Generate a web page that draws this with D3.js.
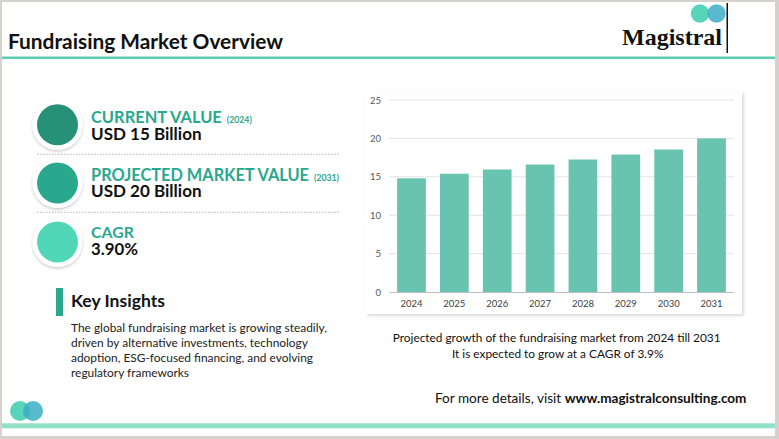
<!DOCTYPE html>
<html><head><meta charset="utf-8">
<script src="https://cdn.jsdelivr.net/npm/d3@7"></script>
<style>html,body{margin:0;padding:0;background:#fff;}svg{display:block;}</style>
</head><body>
<script>
const years = ["2024","2025","2026","2027","2028","2029","2030","2031"];
const values = [14.8, 15.4, 15.95, 16.6, 17.25, 17.9, 18.55, 20.0];
const yTicks = [0, 5, 10, 15, 20, 25];
const kpiTitles = ["CURRENT VALUE", "PROJECTED MARKET VALUE", "CAGR"];
const kpiYears = ["(2024)", "(2031)", ""];
const kpiValues = ["USD 15 Billion", "USD 20 Billion", "3.90%"];
const kpiColors = ["#279079", "#2aa88e", "#52d6b8"];
const insightLines = [
  "The global fundraising market is growing steadily,",
  "driven by alternative investments, technology",
  "adoption, ESG-focused financing, and evolving",
  "regulatory frameworks"
];
const captionLines = [
  "Projected growth of the fundraising market from 2024 till 2031",
  "It is expected to grow at a CAGR of 3.9%"
];

const W = 779, H = 439;
const FONT = "Lato, 'Open Sans', sans-serif";
const svg = d3.select("body").append("svg").attr("width", W).attr("height", H);

const defs = svg.append("defs");
const f = defs.append("filter").attr("id","sh").attr("x","-30%").attr("y","-30%").attr("width","160%").attr("height","160%");
f.append("feDropShadow").attr("dx",0).attr("dy",1.5).attr("stdDeviation",1.6).attr("flood-color","#000").attr("flood-opacity",0.22);
const f2 = defs.append("filter").attr("id","sh2").attr("x","-10%").attr("y","-10%").attr("width","120%").attr("height","120%");
f2.append("feDropShadow").attr("dx",1.5).attr("dy",1.5).attr("stdDeviation",1.5).attr("flood-color","#000").attr("flood-opacity",0.18);

function fit(sel, w) {
  const n = sel.node();
  const cur = n.getComputedTextLength();
  const fs = parseFloat(sel.attr("font-size"));
  if (cur > 0) sel.attr("font-size", (fs * w / cur).toFixed(2));
  return sel;
}

// frame
svg.append("rect").attr("x",0).attr("y",0).attr("width",W).attr("height",H).attr("fill","#d5d2cd");
svg.append("rect").attr("x",2).attr("y",2).attr("width",773).attr("height",434).attr("fill","#ffffff");

// header
fit(svg.append("text").attr("x",8).attr("y",49).attr("font-family",FONT).attr("font-weight",700)
  .attr("font-size",20).attr("fill","#111").text("Fundraising Market Overview"), 275);
svg.append("rect").attr("x",2).attr("y",56.5).attr("width",773).attr("height",2.5).attr("fill","#5ccfb3");

// logo top
const logo = svg.append("g");
logo.append("circle").attr("cx",700).attr("cy",13.5).attr("r",9.2).attr("fill","#4fd2b6").attr("fill-opacity",0.95);
logo.append("circle").attr("cx",716.5).attr("cy",13.5).attr("r",9.2).attr("fill","#3aaec4").attr("fill-opacity",0.85);
logo.append("rect").attr("x",726.5).attr("y",3).attr("width",1.5).attr("height",50).attr("fill","#111");
fit(logo.append("text").attr("x",622).attr("y",45).attr("font-family","'Liberation Serif', 'DejaVu Serif', serif")
  .attr("font-weight",700).attr("font-size",21).attr("fill","#111").text("Magistral"), 100);

// KPIs
const kpiY = [124.8, 183, 242];
kpiY.forEach((cy, i) => {
  svg.append("circle").attr("cx",57.5).attr("cy",cy).attr("r",25).attr("fill","#fff").attr("filter","url(#sh)");
  svg.append("circle").attr("cx",57.5).attr("cy",cy).attr("r",20.5).attr("fill",kpiColors[i]);
});
const titleW = [131, 218, 43];
const valW = [110.7, 110.7, 47];
kpiTitles.forEach((t, i) => {
  const ty = [123.3, 181, 238.3][i];
  const tt = fit(svg.append("text").attr("x",91).attr("y",ty).attr("font-family",FONT).attr("font-weight",700)
    .attr("font-size",17).attr("fill","#2aa88e").text(t), titleW[i]);
  if (kpiYears[i]) {
    const tw = tt.node().getComputedTextLength();
    fit(svg.append("text").attr("x",91 + tw + 5).attr("y",ty).attr("font-family",FONT).attr("font-weight",700)
      .attr("font-size",8).attr("fill","#2aa88e").text(kpiYears[i]), 25);
  }
  fit(svg.append("text").attr("x",91).attr("y",[140, 196.7, 255][i]).attr("font-family",FONT).attr("font-weight",700)
    .attr("font-size",16).attr("fill","#111").text(kpiValues[i]), valW[i]);
});
[154.3, 212.3].forEach(y => {
  svg.append("line").attr("x1",37).attr("x2",340).attr("y1",y).attr("y2",y)
    .attr("stroke","#b5b5b5").attr("stroke-width",1).attr("stroke-dasharray","1.5,1.5");
});

// Key insights
svg.append("rect").attr("x",56).attr("y",288).attr("width",7).attr("height",28).attr("fill","#2aa88e");
fit(svg.append("text").attr("x",71).attr("y",306.7).attr("font-family",FONT).attr("font-weight",700)
  .attr("font-size",16).attr("fill","#111").text("Key Insights"), 94);
const insW = [256, 0, 0, 0];
let insFs = 11;
insightLines.forEach((l, i) => {
  const t = svg.append("text").attr("x",71).attr("y",332.3 + i*15).attr("font-family",FONT)
    .attr("font-size",insFs).attr("fill","#222").text(l);
  if (i === 0) { fit(t, 256); insFs = parseFloat(t.attr("font-size")); }
});

// bottom logo + band
svg.append("circle").attr("cx",20).attr("cy",411).attr("r",10).attr("fill","#4fd2b6").attr("fill-opacity",0.95);
svg.append("circle").attr("cx",33).attr("cy",411).attr("r",10).attr("fill","#3aaec4").attr("fill-opacity",0.85);
svg.append("rect").attr("x",2).attr("y",423.3).attr("width",773).attr("height",5).attr("fill","#93e0c9");

// chart card
svg.append("rect").attr("x",366).attr("y",92).attr("width",376).attr("height",222).attr("fill","#fff").attr("filter","url(#sh2)");

const x = d3.scaleBand().domain(years).range([389, 734]).paddingInner(0.33).paddingOuter(0.19);
const y = d3.scaleLinear().domain([0, 25]).range([292, 100]);

const grid = svg.append("g");
grid.selectAll("line").data(yTicks.filter(d => d > 0)).join("line")
  .attr("x1",389).attr("x2",734).attr("y1",d => y(d)).attr("y2",d => y(d))
  .attr("stroke","#e3e3e3").attr("stroke-width",1);

svg.append("g").selectAll("rect").data(values).join("rect")
  .attr("x",(d,i) => x(years[i])).attr("width",x.bandwidth())
  .attr("y",d => y(d)).attr("height",d => y(0) - y(d)).attr("fill","#68c4b0");

const yAxis = svg.append("g").attr("transform","translate(389,0)")
  .call(d3.axisLeft(y).tickValues(yTicks).tickSize(0).tickPadding(8));
yAxis.select(".domain").remove();
yAxis.selectAll("text").attr("font-family",FONT).attr("font-size",9.5).attr("fill","#595959");

const xAxis = svg.append("g").attr("transform","translate(0,292)")
  .call(d3.axisBottom(x).tickSize(0).tickPadding(8));
xAxis.select(".domain").attr("stroke","#bfbfbf").attr("stroke-width",1.2);
xAxis.selectAll("text").attr("font-family",FONT).attr("font-size",9.5).attr("fill","#404040");

// caption
const cap1 = svg.append("text").attr("x",556.7).attr("y",341.7).attr("text-anchor","middle").attr("font-family",FONT)
  .attr("font-size",12).attr("fill","#111").text(captionLines[0]);
fit(cap1, 328);
svg.append("text").attr("x",557.7).attr("y",357.7).attr("text-anchor","middle").attr("font-family",FONT)
  .attr("font-size",cap1.attr("font-size")).attr("fill","#111").text(captionLines[1]);

// footer link
const ft = svg.append("text").attr("x",435).attr("y",403.3).attr("font-family",FONT).attr("font-size",13).attr("fill","#111");
ft.append("tspan").text("For more details, visit ");
ft.append("tspan").attr("font-weight",700).text("www.magistralconsulting.com");
fit(ft, 311.7);
</script>
</body></html>
